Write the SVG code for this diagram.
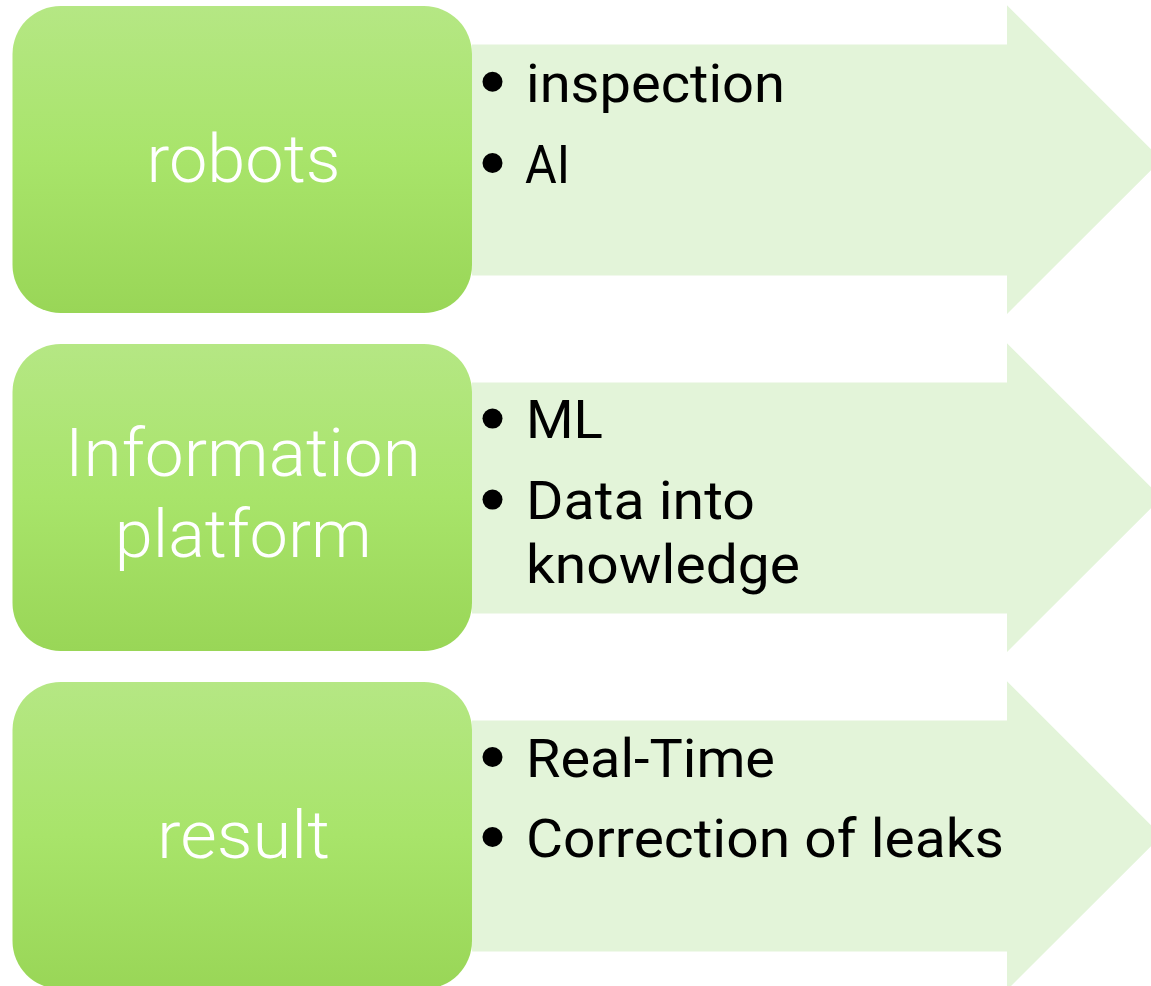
<svg xmlns="http://www.w3.org/2000/svg" width="1151" height="986" viewBox="0 0 1151 986">
  <style>
    .arrow { fill: #e3f4d9; }
    .box { fill: url(#boxGrad); }
    text { font-variant-ligatures: none; }
    .label { font-family: Roboto, "Open Sans", "Liberation Sans", sans-serif; font-weight: 300; font-size: 67px; fill: #ffffff; text-anchor: middle; }
    .item { font-family: Roboto, "Liberation Sans", sans-serif; font-weight: 400; font-size: 54px; fill: #000000; }
    .dot { fill: #000000; }
  </style>
  <defs>
    <linearGradient id="boxGrad" x1="0" y1="0" x2="0" y2="1">
      <stop offset="0" stop-color="#b5e784"/>
      <stop offset="0.5" stop-color="#a8e46a"/>
      <stop offset="1" stop-color="#99d657"/>
    </linearGradient>
    <polygon id="arrowShape" class="arrow" points="472,44.5 1007,44.5 1007,5.3 1161.5,159.7 1007,314 1007,275.5 472,275.5"/>
  </defs>
  <rect width="1151" height="986" fill="#ffffff"/>

  <g id="connectors">
    <use href="#arrowShape"/>
    <use href="#arrowShape" y="338"/>
    <use href="#arrowShape" y="676"/>
  </g>

  <g id="node-robots">
    <rect class="box" x="12.5" y="6" width="459.5" height="307" rx="48" ry="48"/>
    <text class="label" x="243.5" y="181.7" textLength="194" lengthAdjust="spacingAndGlyphs">robots</text>
  </g>
  <g id="list-robots">
    <circle class="dot" cx="492.5" cy="81.7" r="10"/>
    <text class="item" x="526" y="101.7" textLength="259" lengthAdjust="spacingAndGlyphs">inspection</text>
    <circle class="dot" cx="492.5" cy="163" r="10"/>
    <text class="item" x="525" y="182.7" textLength="45" lengthAdjust="spacingAndGlyphs">AI</text>
  </g>

  <g id="node-information-platform">
    <rect class="box" x="12.5" y="344" width="459.5" height="307" rx="48" ry="48"/>
    <text class="label" x="243" y="476" textLength="356" lengthAdjust="spacingAndGlyphs">Information</text>
    <text class="label" x="243.3" y="556.7" textLength="257" lengthAdjust="spacingAndGlyphs">platform</text>
  </g>
  <g id="list-information-platform">
    <circle class="dot" cx="492.5" cy="418.6" r="10"/>
    <text class="item" x="526" y="438.3" textLength="77" lengthAdjust="spacingAndGlyphs">ML</text>
    <circle class="dot" cx="492.5" cy="499.6" r="10"/>
    <text class="item" x="526" y="519.3" textLength="229" lengthAdjust="spacingAndGlyphs">Data into</text>
    <text class="item" x="526" y="583.3" textLength="274" lengthAdjust="spacingAndGlyphs">knowledge</text>
  </g>

  <g id="node-result">
    <rect class="box" x="12.5" y="682" width="459.5" height="307" rx="48" ry="48"/>
    <text class="label" x="243.5" y="857.5" textLength="173" lengthAdjust="spacingAndGlyphs">result</text>
  </g>
  <g id="list-result">
    <circle class="dot" cx="492.5" cy="757" r="10"/>
    <text class="item" x="526" y="776.7" textLength="249" lengthAdjust="spacingAndGlyphs">Real-Time</text>
    <circle class="dot" cx="492.5" cy="837" r="10"/>
    <text class="item" x="526" y="856.7" textLength="478" lengthAdjust="spacingAndGlyphs">Correction of leaks</text>
  </g>
</svg>
